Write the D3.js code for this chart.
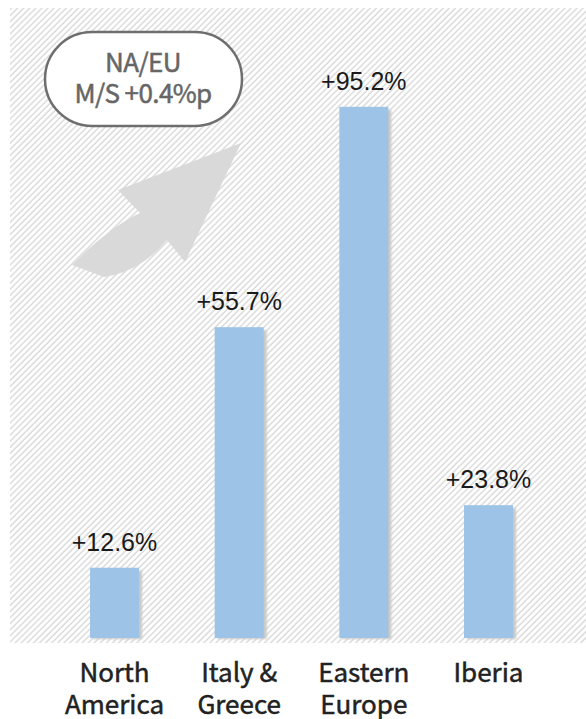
<!DOCTYPE html>
<html>
<head>
<meta charset="utf-8">
<script src="https://cdn.jsdelivr.net/npm/d3@7"></script>
<style>
	html, body { margin: 0; padding: 0; background: #fff; }
	svg { display: block; }
</style>
</head>
<body>
<div id="chart"></div>
<script type="text/javascript">
(function() {
	'use strict';

	// data
	var categories = [['North', 'America'], ['Italy &', 'Greece'], ['Eastern', 'Europe'], ['Iberia']];
	var growth = [12.6, 55.7, 95.2, 23.8];
	var valueLabels = ['+12.6%', '+55.7%', '+95.2%', '+23.8%'];
	var badgeLines = ['NA/EU', 'M/S +0.4%p'];

	var W = 586, H = 719;
	var base = 638;

	var svg = d3.select('#chart').append('svg')
		.attr('width', W)
		.attr('height', H);

	var defs = svg.append('defs');

	// diagonal hatch for the plot background
	defs.append('pattern')
		.attr('id', 'hatch')
		.attr('patternUnits', 'userSpaceOnUse')
		.attr('width', 4.3)
		.attr('height', 10)
		.attr('patternTransform', 'rotate(45)')
		.append('line')
		.attr('x1', 1).attr('y1', 0)
		.attr('x2', 1).attr('y2', 10)
		.attr('stroke', '#d9d9d9')
		.attr('stroke-width', 1.4);

	var blur = defs.append('filter').attr('id', 'soft');
	blur.append('feGaussianBlur').attr('stdDeviation', 1);

	svg.append('rect')
		.attr('x', 10).attr('y', 8)
		.attr('width', W - 10).attr('height', 643 - 8)
		.attr('fill', 'url(#hatch)');

	var x = d3.scaleBand()
		.domain(d3.range(growth.length))
		.range([52.2, 550.8])
		.paddingInner(0.607)
		.paddingOuter(0.3035);

	var y = d3.scaleLinear()
		.domain([0, 100])
		.range([base, 80]);

	// badge
	svg.append('rect')
		.attr('x', 45).attr('y', 32)
		.attr('width', 197).attr('height', 94)
		.attr('rx', 47).attr('ry', 47)
		.attr('fill', '#fff')
		.attr('stroke', '#6e6e6e')
		.attr('stroke-width', 2.5);

	svg.selectAll('.badge')
		.data(badgeLines)
		.enter()
		.append('text')
		.attr('class', 'badge')
		.attr('x', 143)
		.attr('y', function(d, i) { return 72 + i * 31; })
		.attr('text-anchor', 'middle')
		.style('font-family', '"Noto Sans CJK KR", "Noto Sans", sans-serif')
		.style('font-size', '26px')
		.style('letter-spacing', '-0.6px')
		.attr('fill', '#666')
		.attr('stroke', '#666')
		.attr('stroke-width', 0.5)
		.text(function(d) { return d; });

	// big grey arrow
	svg.append('path')
		.attr('d', 'M72,265 Q108,228 140,213 L118,190 L241,143 L185,262 L167,240 Q140,272 104,277 Z')
		.attr('fill', '#d9d9d9');

	// bar shadows then bars
	svg.selectAll('.shadow')
		.data(growth)
		.enter()
		.append('rect')
		.attr('class', 'shadow')
		.attr('x', function(d, i) { return x(i) + 3; })
		.attr('y', function(d) { return y(d) + 3; })
		.attr('width', x.bandwidth())
		.attr('height', function(d) { return base - y(d) - 2; })
		.attr('fill', '#c8c8c8')
		.attr('filter', 'url(#soft)');

	svg.selectAll('.bar')
		.data(growth)
		.enter()
		.append('rect')
		.attr('class', 'bar')
		.attr('x', function(d, i) { return x(i); })
		.attr('y', function(d) { return y(d); })
		.attr('width', x.bandwidth())
		.attr('height', function(d) { return base - y(d); })
		.attr('fill', '#9dc3e6');

	svg.selectAll('.val')
		.data(growth)
		.enter()
		.append('text')
		.attr('class', 'val')
		.attr('x', function(d, i) { return x(i) + x.bandwidth() / 2; })
		.attr('y', function(d) { return y(d) - 17; })
		.attr('text-anchor', 'middle')
		.style('font-family', '"Liberation Sans", Arial, sans-serif')
		.style('font-size', '25px')
		.attr('fill', '#1a1a1a')
		.text(function(d, i) { return valueLabels[i]; });

	// category labels
	var cat = svg.selectAll('.cat')
		.data(categories)
		.enter()
		.append('text')
		.attr('class', 'cat')
		.attr('text-anchor', 'middle')
		.style('font-family', '"Noto Sans CJK KR", "Noto Sans", sans-serif')
		.style('font-size', '26px')
		.attr('fill', '#222')
		.attr('stroke', '#222')
		.attr('stroke-width', 0.5);

	cat.selectAll('tspan')
		.data(function(d, i) { return d.map(function(t) { return { t: t, i: i }; }); })
		.enter()
		.append('tspan')
		.attr('x', function(d) { return x(d.i) + x.bandwidth() / 2; })
		.attr('y', function(d, j) { return 682 + j * 32; })
		.text(function(d) { return d.t; });

}());
</script>
</body>
</html>
